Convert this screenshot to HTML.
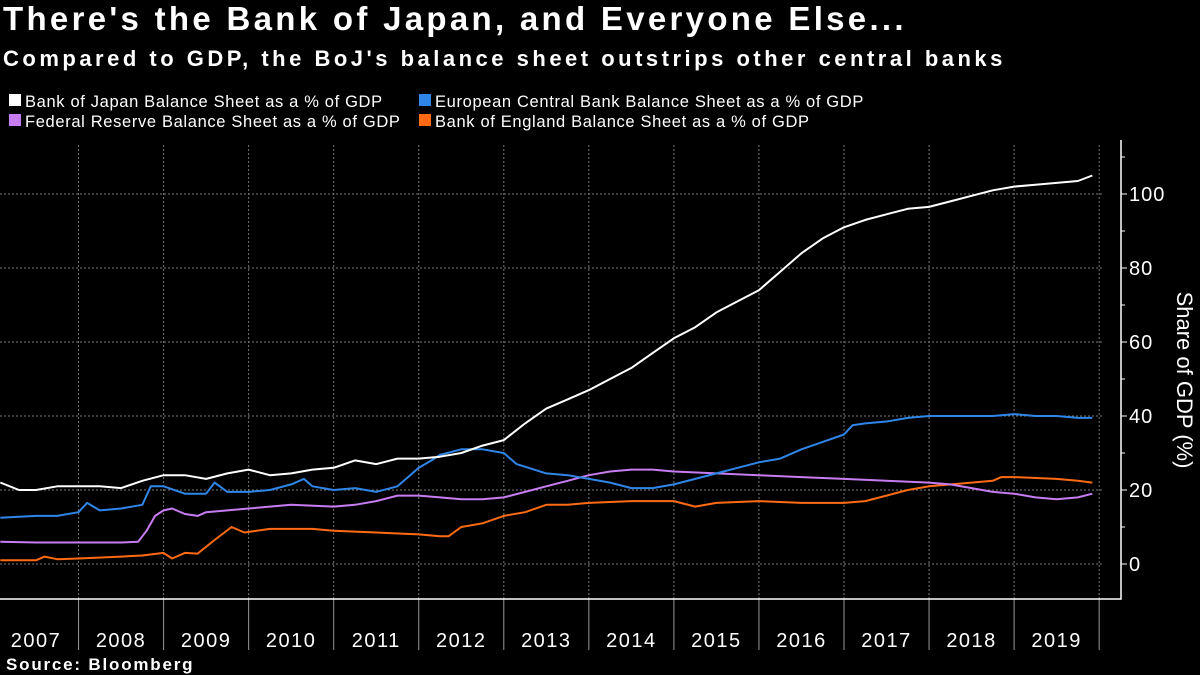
<!DOCTYPE html>
<html><head><meta charset="utf-8"><style>
body{margin:0;background:#000;width:1200px;height:675px;overflow:hidden;font-family:"Liberation Sans",sans-serif;color:#fff}
.t{position:absolute;left:3px;white-space:nowrap;font-weight:bold}
</style></head><body>
<div class="t" style="top:0px;font-size:33px;letter-spacing:3.3px">There's the Bank of Japan, and Everyone Else...</div>
<div class="t" style="top:46px;font-size:22px;letter-spacing:3.5px">Compared to GDP, the BoJ's balance sheet outstrips other central banks</div>
<svg id="c" width="1200" height="675" style="position:absolute;left:0;top:0"></svg>
<script>
const years=["2007","2008","2009","2010","2011","2012","2013","2014","2015","2016","2017","2018","2019"];
const yTicks=[0,20,40,60,80,100];
const bojDates=[2007.08,2007.3,2007.5,2007.75,2008,2008.25,2008.5,2008.75,2009,2009.25,2009.5,2009.75,2010,2010.25,2010.5,2010.75,2011,2011.25,2011.5,2011.75,2012,2012.25,2012.5,2012.75,2013,2013.25,2013.5,2013.75,2014,2014.25,2014.5,2014.75,2015,2015.25,2015.5,2015.75,2016,2016.25,2016.5,2016.75,2017,2017.25,2017.5,2017.75,2018,2018.25,2018.5,2018.75,2019,2019.25,2019.5,2019.75,2019.92];
const bojValues=[22,20,20,21,21,21,20.5,22.5,24,24,23,24.5,25.5,24,24.5,25.5,26,28,27,28.5,28.5,29,30,32,33.5,38,42,44.5,47,50,53,57,61,64,68,71,74,79,84,88,91,93,94.5,96,96.5,98,99.5,101,102,102.5,103,103.5,105];
const ecbDates=[2007.08,2007.5,2007.75,2008,2008.1,2008.25,2008.5,2008.75,2008.85,2009,2009.25,2009.5,2009.6,2009.75,2010,2010.25,2010.5,2010.65,2010.75,2011,2011.25,2011.5,2011.75,2012,2012.15,2012.25,2012.5,2012.75,2013,2013.15,2013.5,2013.75,2014,2014.25,2014.5,2014.75,2015,2015.25,2015.5,2015.75,2016,2016.25,2016.5,2016.75,2017,2017.1,2017.25,2017.5,2017.75,2018,2018.5,2018.75,2019,2019.25,2019.5,2019.75,2019.92];
const ecbValues=[12.5,13,13,14,16.5,14.5,15,16,21,21,19,19,22,19.5,19.5,20,21.5,23,21,20,20.5,19.5,21,26,28,29.5,31,31,30,27,24.5,24,23,22,20.5,20.5,21.5,23,24.5,26,27.5,28.5,31,33,35,37.5,38,38.5,39.5,40,40,40,40.5,40,40,39.5,39.5];
const fedDates=[2007.08,2007.5,2008,2008.5,2008.7,2008.8,2008.9,2009,2009.1,2009.25,2009.4,2009.5,2010,2010.5,2011,2011.25,2011.5,2011.75,2012,2012.25,2012.5,2012.75,2013,2013.25,2013.5,2013.75,2014,2014.25,2014.5,2014.75,2015,2015.5,2016,2016.5,2017,2017.5,2018,2018.25,2018.5,2018.75,2019,2019.25,2019.5,2019.75,2019.92];
const fedValues=[6,5.8,5.8,5.8,6,9,13,14.5,15,13.5,13,14,15,16,15.5,16,17,18.5,18.5,18,17.5,17.5,18,19.5,21,22.5,24,25,25.5,25.5,25,24.5,24,23.5,23,22.5,22,21.5,20.5,19.5,19,18,17.5,18,19];
const boeDates=[2007.08,2007.5,2007.6,2007.75,2008,2008.5,2008.75,2009,2009.1,2009.25,2009.4,2009.6,2009.8,2009.95,2010.25,2010.5,2010.75,2011,2011.5,2012,2012.25,2012.35,2012.5,2012.75,2013,2013.25,2013.5,2013.75,2014,2014.5,2015,2015.25,2015.5,2016,2016.5,2017,2017.25,2017.5,2017.75,2018,2018.5,2018.75,2018.85,2019,2019.5,2019.75,2019.92];
const boeValues=[1,1,2,1.3,1.5,2,2.3,3,1.5,3,2.8,6.5,10,8.5,9.5,9.5,9.5,9,8.5,8,7.5,7.5,10,11,13,14,16,16,16.5,17,17,15.5,16.5,17,16.5,16.5,17,18.5,20,21,22,22.5,23.5,23.5,23,22.5,22];
const NS="http://www.w3.org/2000/svg",svg=document.getElementById('c');
const X=t=>-6.5+85.05*(t-2007), Y=v=>564-3.7*v;
function mk(tag,a,p){const e=document.createElementNS(NS,tag);for(const k in a)e.setAttribute(k,a[k]);(p||svg).appendChild(e);return e;}
yTicks.forEach(v=>{const l=mk('line',{x1:0,x2:1104,y1:Y(v),y2:Y(v),stroke:'#777','stroke-dasharray':'2,2','stroke-width':1});


const tk=mk('line',{x1:1121,x2:1127,y1:Y(v),y2:Y(v),stroke:'#fff'});


const tx=mk('text',{x:1129,y:Y(v)+7,fill:'#fff','font-size':20,'letter-spacing':1});tx.textContent=v;

});
[10,30,50,70,90,110].forEach(v=>{const tk=mk('line',{x1:1121,x2:1125,y1:Y(v),y2:Y(v),stroke:'#fff'});

});
for(let i=1;i<=years.length;i++){const x=X(2007+i);
const g=mk('line',{x1:x,x2:x,y1:145,y2:599,stroke:'#777','stroke-dasharray':'2,2'});


const s=mk('line',{x1:x,x2:x,y1:599,y2:650,stroke:'#999'});

}
years.forEach((y,i)=>{const tx=mk('text',{x:X(2007.5+i),y:647,fill:'#fff','font-size':20,'letter-spacing':1.5,'text-anchor':'middle'});tx.textContent=y;

});
const ax=mk('path',{d:'M0 599H1121V140',stroke:'#fff',fill:'none','stroke-width':1.5});


const yt=mk('text',{x:0,y:0,fill:'#fff','font-size':22,'text-anchor':'middle',transform:'translate(1177,380) rotate(90)'});yt.textContent='Share of GDP (%)';


function line(d,v,c,n){const p=mk('polyline',{points:d.map((t,i)=>X(t).toFixed(1)+','+Y(v[i]).toFixed(1)).join(' '),fill:'none',stroke:c,'stroke-width':2,'stroke-linejoin':'round'});

}
line(boeDates,boeValues,'#ff6a14','boe-line');
line(fedDates,fedValues,'#c77cf2','fed-line');
line(ecbDates,ecbValues,'#2f86e8','ecb-line');
line(bojDates,bojValues,'#ffffff','boj-line');
const leg=[["Bank of Japan Balance Sheet as a % of GDP","#fff",9,107],["European Central Bank Balance Sheet as a % of GDP","#2f86e8",419,107],["Federal Reserve Balance Sheet as a % of GDP","#c77cf2",9,127],["Bank of England Balance Sheet as a % of GDP","#ff6a14",419,127]];
leg.forEach(l=>{const g=mk('g',{});


mk('rect',{x:l[2],y:l[3]-13,width:12,height:12,fill:l[1]},g);
const t=mk('text',{x:l[2]+16,y:l[3],fill:'#fff','font-size':16.5,'letter-spacing':0.65},g);t.textContent=l[0];});
const src=mk('text',{x:6,y:670,fill:'#fff','font-size':17,'font-weight':'bold','letter-spacing':1.8});src.textContent='Source:  Bloomberg';


</script>
</body></html>
